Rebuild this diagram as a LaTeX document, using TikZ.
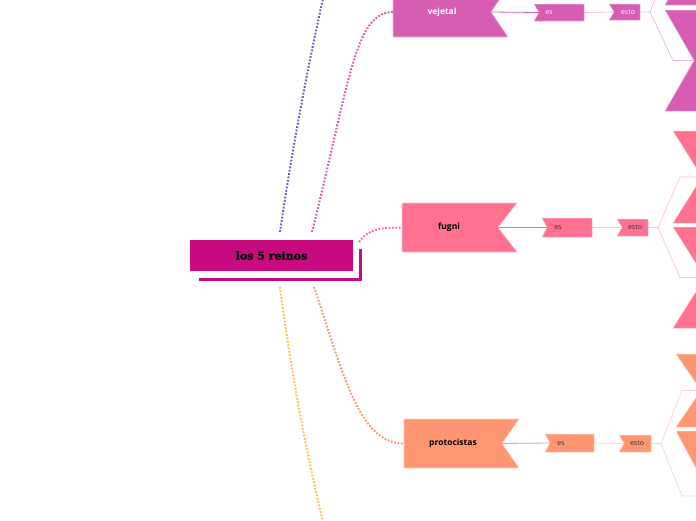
\documentclass[tikz,border=0pt]{standalone}
\usepackage{fontspec}
\setmainfont{Open Sans}
\newfontfamily\titlefont[BoldFeatures={FakeBold=1.5}]{DejaVu Serif}
\usetikzlibrary{calc}
\definecolor{cmag}{RGB}{200,10,128}
\definecolor{cveg}{RGB}{214,93,177}
\definecolor{cfun}{RGB}{255,112,145}
\definecolor{cpro}{RGB}{255,150,114}
\definecolor{cpur}{RGB}{126,87,194}
\definecolor{cyel}{RGB}{255,195,77}
\tikzset{
  dotline/.style={line width=2pt, dash pattern=on 1.8pt off 1.6pt},
  bannertext/.style={font=\bfseries\fontsize{8.5}{10}\selectfont, inner sep=0pt},
  tagtext/.style={font=\fontsize{7}{8}\selectfont, inner sep=0pt},
  mainlink/.style={line width=0.8pt},
  palelink/.style={line width=0.7pt}
}
% banner with notch on the right: name, xL, xR, yT, yB, depth, colour
\newcommand{\bannerR}[7]{%
  \fill[#7, draw=#7!45!white, line width=0.6pt] (#2,#4) -- (#3,#4) -- ({#3-#6},{(#4+#5)/2}) -- (#3,#5) -- (#2,#5) -- cycle;
  \coordinate (#1-notch) at ({#3-#6},{(#4+#5)/2});
  \coordinate (#1-w) at (#2,{(#4+#5)/2});}
% box with notch on the left: name, xL, xR, yT, yB, depth, colour
\newcommand{\tagbox}[7]{%
  \fill[#7, draw=#7!40!white, line width=0.5pt] (#2,#4) -- (#3,#4) -- (#3,#5) -- (#2,#5) -- ({#2+#6},{(#4+#5)/2}) -- cycle;
  \coordinate (#1-in) at ({#2+#6},{(#4+#5)/2});
  \coordinate (#1-out) at (#3,{(#4+#5)/2});}
\begin{document}
\begin{tikzpicture}[x=1pt,y=-1pt]
\useasboundingbox (0,0) rectangle (696,520);
\clip (0,0) rectangle (696,520);
\fill[white] (0,0) rectangle (696,520);

% central node
\draw[cmag, line width=3pt] (199,279.5) -- (360,279.5) -- (360,249);
\node[fill=cmag, minimum width=163pt, minimum height=31pt, inner sep=0pt,
      font=\titlefont\bfseries\fontsize{11}{13}\selectfont, text=black] (center) at (271.5,255.5) {los 5 reinos};

% anchor coordinates for the dotted branches
\coordinate (c1) at (280,232);
\coordinate (c2) at (312,232);
\coordinate (c3) at (359,242);
\coordinate (c4) at (314,287);
\coordinate (c5) at (280,287);
\coordinate (topend) at (324,-6);
\coordinate (botend) at (324,526);

% ---------- vejetal ----------
\bannerR{veg}{393}{508}{-13}{37}{17}{cveg}
\node[bannertext, text=white] (vegt) at (442,12) {vejetal};
\tagbox{veges}{534}{584}{4}{21}{5}{cveg}
\node[tagtext, text=white] (vegest) at (549,12.5) {es};
\tagbox{vegesto}{609}{640}{4}{20}{5}{cveg}
\node[tagtext, text=white] (vegestot) at (628,12) {esto};
\tagbox{veg1}{665}{780}{-96}{5}{29}{cveg}
\tagbox{veg2}{665}{780}{10}{111}{29}{cveg}
\coordinate (vegb) at (650,12);
\draw[cveg, mainlink] (veg-notch) -- (veges-in);
\draw[cveg!45!white, palelink] (veges-out) -- (vegesto-in);
\draw[cveg!45!white, palelink] (vegesto-out) -- (vegb) -- (673,-45.5) -- (veg1-in);
\draw[cveg!45!white, palelink] (vegb) -- (673,60.5) -- (veg2-in);

% ---------- fugni ----------
\bannerR{fun}{402}{517}{203}{252}{19}{cfun}
\node[bannertext, text=black] (funt) at (449,227.5) {fugni};
\tagbox{funes}{542}{592}{218}{237}{5}{cfun}
\node[tagtext, text=black!80] (funest) at (558,228) {es};
\tagbox{funesto}{617}{648}{219}{236}{5}{cfun}
\node[tagtext, text=black!80] (funestot) at (635,227.5) {esto};
\tagbox{fun1}{673}{790}{131}{223}{29}{cfun}
\tagbox{fun2}{673}{790}{227}{328}{32}{cfun}
\coordinate (funb) at (658,227.5);
\draw[cfun, mainlink] (fun-notch) -- (funes-in);
\draw[cfun!40!white, palelink] (funes-out) -- (funesto-in);
\draw[cfun!40!white, palelink] (funesto-out) -- (funb) -- (680,177) -- (fun1-in);
\draw[cfun!40!white, palelink] (funb) -- (680,277.5) -- (fun2-in);

% ---------- protocistas ----------
\bannerR{pro}{404}{519}{419}{468}{17}{cpro}
\node[bannertext, text=black] (prot) at (453,443.5) {protocistas};
\tagbox{proes}{545}{594}{434}{452}{5}{cpro}
\node[tagtext, text=black!80] (proest) at (561,443.5) {es};
\tagbox{proesto}{619}{651}{435}{452}{5}{cpro}
\node[tagtext, text=black!80] (proestot) at (637,443) {esto};
\tagbox{pro1}{676}{790}{354}{427}{25}{cpro}
\tagbox{pro2}{676}{790}{431}{561}{35}{cpro}
\coordinate (prob) at (661,443.5);
\draw[cpro, mainlink] (pro-notch) -- (proes-in);
\draw[cpro!40!white, palelink] (proes-out) -- (proesto-in);
\draw[cpro!40!white, palelink] (proesto-out) -- (prob) -- (682,390.5) -- (pro1-in);
\draw[cpro!40!white, palelink] (prob) -- (682,496) -- (pro2-in);

% ---------- dotted branches ----------
\draw[cpur, dotline] (c1) .. controls (292,150) and (307,70) .. (topend);
\draw[cveg, dotline] (c2) .. controls (350,80) and (355,12) .. (veg-w);
\draw[cfun, dotline] (c3) .. controls (368,230) and (378,227.5) .. (fun-w);
\draw[cpro, dotline] (c4) .. controls (345,380) and (360,443.5) .. (pro-w);
\draw[cyel, dotline] (c5) .. controls (292,380) and (308,460) .. (botend);
\end{tikzpicture}
\end{document}
